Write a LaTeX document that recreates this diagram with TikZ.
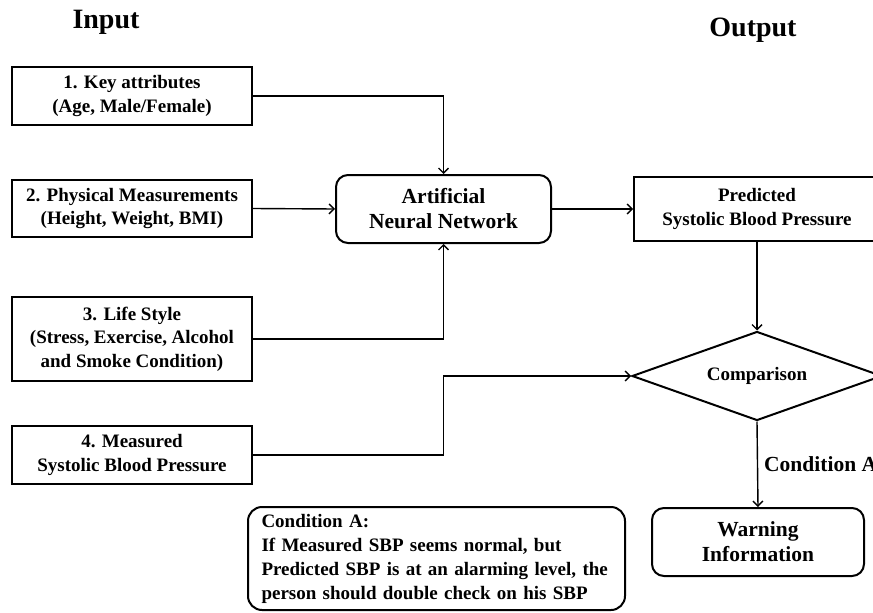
\documentclass[tikz,border=0pt]{standalone}
\usepackage{fontspec}
\setmainfont{Liberation Serif}
\usetikzlibrary{shapes.geometric,arrows.meta}
\begin{document}
\begin{tikzpicture}[x=1pt,y=-1pt,
  txt/.style={font=\bfseries\fontsize{19}{23.5}\selectfont, align=center, inner sep=0pt},
  inbox/.style={txt, draw, line width=2pt, minimum width=240pt},
  rbox/.style={txt, draw, line width=2pt, rounded corners=12pt},
  big/.style={font=\bfseries\fontsize{21.5}{25}\selectfont},
  conn/.style={line width=1.4pt, -{Straight Barb[length=5pt,width=10pt,line width=1.4pt]}},
  title/.style={font=\bfseries\fontsize{28}{32}\selectfont, inner sep=0pt}]
\useasboundingbox (0,0) rectangle (873,613);
\clip (0,0) rectangle (873,613);

\node[title] (tin) at (106,22) {Input};
\node[title] (tout) at (753,30) {Output};

\node[inbox, minimum height=58pt] (b1) at (132,96) {1. Key attributes\\(Age, Male/Female)};
\node[inbox, minimum height=57pt] (b2) at (132,208.5) {2. Physical Measurements\\(Height, Weight, BMI)};
\node[inbox, minimum height=84pt] (b3) at (132,339) {3. Life Style\\(Stress, Exercise, Alcohol\\and Smoke Condition)};
\node[inbox, minimum height=58pt] (b4) at (132,455) {4. Measured\\Systolic Blood Pressure};

\node[rbox, big, minimum width=215pt, minimum height=68pt] (ann) at (443.5,209) {Artificial\\Neural Network};
\node[txt, draw, line width=2pt, minimum width=246pt, minimum height=64pt] (pred) at (757,209) {Predicted\\Systolic Blood Pressure};
\node[txt, draw, line width=2pt, diamond, aspect=2.81, minimum width=250pt, minimum height=89pt] (cmp) at (757,376) {Comparison};
\node[rbox, big, minimum width=212pt, minimum height=68pt] (warn) at (758,542) {Warning\\Information};
\node[txt, draw, line width=2pt, rounded corners=14pt, minimum width=377pt, minimum height=103pt, align=left, text width=350pt, font=\bfseries\fontsize{19}{24}\selectfont] (cond) at (436.5,558.5) {Condition A:\\If Measured SBP seems normal, but\\Predicted SBP is at an alarming level, the\\person should double check on his SBP};

\coordinate (j1) at (443.5,96);
\coordinate (j3) at (443.5,339);
\coordinate (j4a) at (443.5,455);
\coordinate (j4b) at (443.5,376);

\draw[conn] (b1.east) -- (j1) -- (ann.north);
\draw[conn] (b2.east) -- (ann.west);
\draw[conn] (b3.east) -- (j3) -- (ann.south);
\draw[conn] (b4.east) -- (j4a) -- (j4b) -- (cmp.west);
\draw[conn] (ann.east) -- (pred.west);
\draw[conn] (pred.south) -- (cmp.north);
\draw[conn] (cmp.south) -- node[txt, right, xshift=6pt, font=\bfseries\fontsize{21.5}{25}\selectfont] (lbl) {Condition A} (warn.north);
\end{tikzpicture}
\end{document}
